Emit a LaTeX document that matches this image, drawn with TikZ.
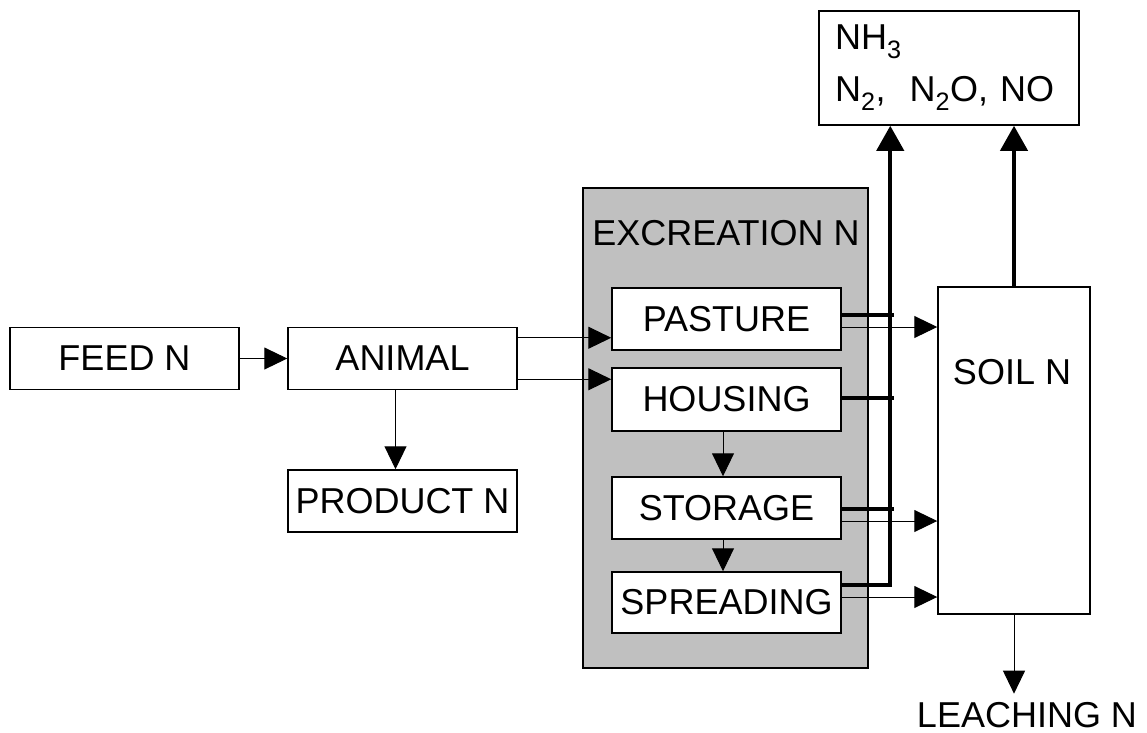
\documentclass[tikz,border=0pt]{standalone}
\usepackage{fontspec}
\setmainfont{Liberation Sans}
\usepackage{xcolor}
\usepackage{tikz}
\usetikzlibrary{arrows.meta, positioning}
\definecolor{poolgray}{RGB}{192, 192, 192}

\begin{document}
\begin{tikzpicture}[x=1pt, y=-1pt, font=\fontsize{36}{52}\selectfont,
    >={Triangle[length=23pt, width=22pt]},
    flowbox/.style={draw, line width=1.5pt, fill=white, inner sep=0pt,
        minimum width=229pt, minimum height=62pt},
    flow/.style={->, line width=1pt},
    loss/.style={line width=4pt},
    lossarrow/.style={line width=4pt, -{Triangle[length=25pt, width=27pt]}}]
    \useasboundingbox (0,0) rectangle (1147,732);
    % animal side
    \node[flowbox] (feed) at (124.5,358.5) {FEED N};
    \node[flowbox] (animal) at (402.5,358.5) {ANIMAL};
    \node[flowbox] (product) at (402.5,501) {PRODUCT N};
    % manure chain
    \node[draw, line width=1.5pt, fill=poolgray, minimum width=285pt, minimum height=480pt] (excretion) at (725.5,428) {};
    \node[anchor=base, inner sep=0pt] (exctitle) at (726,245) {EXCREATION N};
    \node[flowbox] (pasture) at (726.5,319) {PASTURE};
    \node[flowbox, minimum height=63pt] (housing) at (726.5,399.5) {HOUSING};
    \node[flowbox] (storage) at (726.5,508) {STORAGE};
    \node[flowbox, minimum height=61pt] (spreading) at (726.5,602.5) {SPREADING};
    % soil and losses
    \node[flowbox, minimum width=152pt, minimum height=327pt] (soil) at (1014,450.5) {};
    \node[anchor=base, inner sep=0pt] (soiltitle) at (1012,384) {SOIL N};
    \node[draw, line width=1.5pt, fill=white, text width=228pt, inner xsep=16pt, inner ysep=0pt,
        minimum height=114pt, align=left] (gases) at (949,68)
        {NH\textsubscript{3}\\N\textsubscript{2},\ \ N\textsubscript{2}O, NO};
    \node[anchor=base, inner sep=0pt] (leaching) at (1027,727) {LEACHING N};

    \draw[flow] (feed) -- (animal);
    \draw[flow] ([xshift=-7pt]animal.south) -- ([xshift=-7pt]product.north);
    \coordinate (a1) at ([yshift=-11pt]animal.north east);
    \coordinate (a2) at ([yshift=11pt]animal.south east);
    \draw[flow] (a1) -- (a1 -| pasture.west);
    \draw[flow] (a2) -- (a2 -| housing.west);
    \draw[flow] ([xshift=-3.5pt]housing.south) -- ([xshift=-3.5pt]storage.north);
    \draw[flow] ([xshift=-3.5pt]storage.south) -- ([xshift=-3.5pt]spreading.north);

    \coordinate (s1) at ([yshift=-8pt]pasture.east);
    \coordinate (s2) at ([yshift=-13pt]storage.east);
    \coordinate (s3) at ([yshift=5.5pt]spreading.east);
    \draw[flow] (s1) -- (s1 -| soil.west);
    \draw[flow] (s2) -- (s2 -| soil.west);
    \draw[flow] (s3) -- (s3 -| soil.west);
    \draw[flow, shorten >=8pt] (soil.south) -- (soil.south |- leaching.north);

    % gaseous losses
    \coordinate (bus) at ([xshift=72pt]gases.south west);
    \draw[loss] ([yshift=4pt]pasture.east) -- ++(52,0);
    \draw[loss] ([yshift=1.5pt]housing.east) -- ++(52,0);
    \draw[loss] ([yshift=-1pt]storage.east) -- ++(52,0);
    \draw[lossarrow] ([yshift=17.5pt]spreading.east) -| (bus);
    \draw[lossarrow] (soil.north) -- (soil.north |- gases.south);
\end{tikzpicture}
\end{document}
